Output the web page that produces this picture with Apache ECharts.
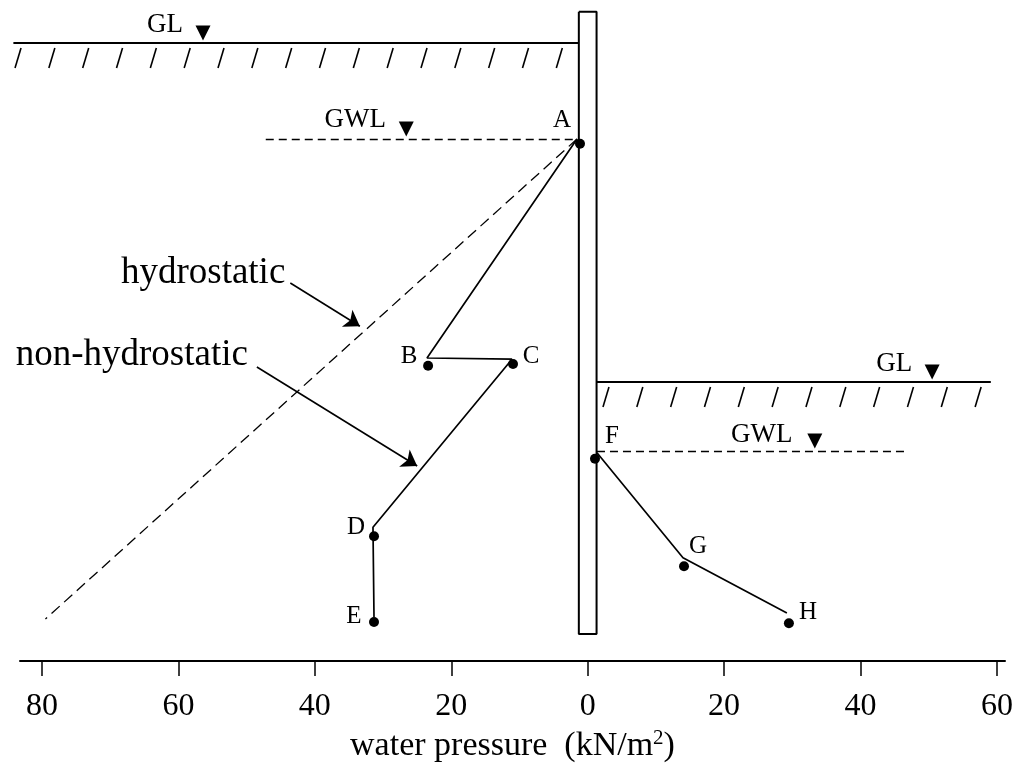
<!DOCTYPE html>
<html><head><meta charset="utf-8">
<script src="https://cdn.jsdelivr.net/npm/echarts@6/dist/echarts.min.js"></script>
<style>html,body{margin:0;padding:0;background:#fff}#c{width:1017px;height:765px}</style>
</head><body><div id="c"></div>
<script>
// ---- data (x: water pressure, kN/m2, left side negative; y: depth in m below left GL) ----
const xTickValues = [-80, -60, -40, -20, 0, 20, 40, 60];
const wallX = [-1.3, 1.3];
const wallDepth = [-0.52, 9.85];

const levelNames = ['GL', 'GWL', 'GL', 'GWL'];
const levelDepth = [0, 1.6, 5.65, 6.8];
const levelFromX = [-84.2, -47.2, 1.3, 1.36];
const levelToX = [-1.3, -1.3, 59.1, 47.0];
const levelMarkX = [-56.4, -26.6, 50.5, 33.3];

const hydroX = [-1.57, -79.5];
const hydroDepth = [1.6, 9.6];

const leftLineX = [-1.57, -23.56, -11.1, -31.48, -31.33];
const leftLineDepth = [1.6, 5.25, 5.27, 8.07, 9.57];
const rightLineX = [1.36, 13.97, 29.2];
const rightLineDepth = [6.83, 8.58, 9.5];

const pointNames = ['A', 'B', 'C', 'D', 'E', 'F', 'G', 'H'];
const pointX = [-1.13, -23.4, -10.95, -31.33, -31.33, 1.07, 14.12, 29.5];
const pointDepth = [1.68, 5.38, 5.35, 8.22, 9.65, 6.93, 8.72, 9.67];

const noteNames = ['hydrostatic', 'non-hydrostatic'];
const noteFromX = [-43.6, -48.5];
const noteFromDepth = [4.0, 5.4];
const noteToX = [-33.4, -25.0];
const noteToDepth = [4.72, 7.05];

// ---- styles ----
const FONT = 'Liberation Serif';
const BLACK = '#000';
const pointLabelOffset = {A:[-18,-23], B:[-19,-9.5], C:[18,-7.5], D:[-18,-8.5], E:[-20,-5.5], F:[17,-22], G:[14,-20], H:[19,-11]};
const levelLabelOffset = [[-38,-18], [-51,-19], [-38,-18.5], [-53,-16]];
const hatchCfg = [ {level:0, start:-83.96, count:17}, {level:2, start:2.24, count:12} ];
const HATCH_STEP = 4.96, HATCH_SLANT = 0.88, HATCH_TOP = 0.083, HATCH_BOT = 0.417;

const zip = (xs, ys) => xs.map((x, i) => [x, ys[i]]);

// wall outline
const wallPts = [[wallX[0], wallDepth[0]], [wallX[1], wallDepth[0]], [wallX[1], wallDepth[1]], [wallX[0], wallDepth[1]], [wallX[0], wallDepth[0]]];

// level lines
const solidLevels = [], dashedLevels = [];
levelNames.forEach((n, i) => {
  const seg = {coords: [[levelFromX[i], levelDepth[i]], [levelToX[i], levelDepth[i]]]};
  (n === 'GL' ? solidLevels : dashedLevels).push(seg);
});

// hatching under ground levels
const hatches = [];
hatchCfg.forEach(h => {
  const d = levelDepth[h.level];
  for (let k = 0; k < h.count; k++) {
    const x = h.start + k * HATCH_STEP;
    hatches.push({coords: [[x, d + HATCH_BOT], [x + HATCH_SLANT, d + HATCH_TOP]]});
  }
});

const levelPts = levelMarkX.map((x, i) => [x, levelDepth[i]]);

const option = {
  animation: false,
  backgroundColor: '#fff',
  grid: {left: 20, right: 12, top: 7, bottom: 104, containLabel: false, outerBoundsMode: 'none'},
  xAxis: {
    type: 'value', min: -83.23, max: 61.18,
    position: 'bottom',
    axisLine: {onZero: false, lineStyle: {color: BLACK, width: 2}},
    axisTick: {show: true, customValues: xTickValues, length: 15, inside: false, lineStyle: {color: BLACK, width: 1.5}},
    axisLabel: {customValues: xTickValues, margin: 30, fontFamily: FONT, fontSize: 32, color: BLACK,
      formatter: v => String(Math.abs(Math.round(v)))},
    splitLine: {show: false},
    name: '{a|water pressure  (kN/m}{s|2}{a|)}',
    nameLocation: 'middle', nameGap: 67,
    nameTextStyle: {rich: {
      a: {fontFamily: FONT, fontSize: 34, color: BLACK, lineHeight: 36},
      s: {fontFamily: FONT, fontSize: 21, color: BLACK, verticalAlign: 'top', lineHeight: 36}
    }}
  },
  yAxis: {type: 'value', inverse: true, min: -0.6, max: 10.3, show: false},
  series: [
    {type: 'line', data: wallPts, symbol: 'none', clip: false, silent: true,
      lineStyle: {color: BLACK, width: 2}},
    {type: 'lines', coordinateSystem: 'cartesian2d', data: solidLevels, clip: false, silent: true,
      lineStyle: {color: BLACK, width: 2, opacity: 1}},
    {type: 'lines', coordinateSystem: 'cartesian2d', data: dashedLevels, clip: false, silent: true,
      lineStyle: {color: BLACK, width: 1.3, type: [8, 5], opacity: 1}},
    {type: 'lines', coordinateSystem: 'cartesian2d', data: hatches, clip: false, silent: true,
      lineStyle: {color: BLACK, width: 1.6, opacity: 1}},
    {type: 'line', data: zip(hydroX, hydroDepth), symbol: 'none', clip: false, silent: true,
      lineStyle: {color: BLACK, width: 1.3, type: [11, 6]}},
    {type: 'line', data: zip(leftLineX, leftLineDepth), symbol: 'none', clip: false, silent: true,
      lineStyle: {color: BLACK, width: 1.7}},
    {type: 'line', data: zip(rightLineX, rightLineDepth), symbol: 'none', clip: false, silent: true,
      lineStyle: {color: BLACK, width: 1.7}},
    {type: 'lines', coordinateSystem: 'cartesian2d', clip: false, silent: true,
      data: noteNames.map((n, i) => ({coords: [[noteFromX[i], noteFromDepth[i]], [noteToX[i], noteToDepth[i]]]})),
      symbol: ['none', 'arrow'], symbolSize: 15,
      lineStyle: {color: BLACK, width: 1.6, opacity: 1}, itemStyle: {color: BLACK, opacity: 1}},
    {type: 'scatter', data: levelPts, symbol: 'triangle', symbolRotate: 180, symbolSize: [15, 15],
      symbolOffset: [0, -10], clip: false, silent: true, itemStyle: {color: BLACK, opacity: 1}},
    {type: 'scatter', clip: false, silent: true, symbolSize: 0, itemStyle: {opacity: 1},
      data: levelPts.map((p, i) => ({value: p, label: {offset: levelLabelOffset[i], formatter: levelNames[i]}})),
      label: {show: true, position: 'inside', color: BLACK, fontFamily: FONT, fontSize: 27}},
    {type: 'scatter', clip: false, silent: true, symbolSize: 10, itemStyle: {color: BLACK, opacity: 1},
      data: pointNames.map((n, i) => ({value: [pointX[i], pointDepth[i]], label: {offset: pointLabelOffset[n], formatter: n}})),
      label: {show: true, position: 'inside', color: BLACK, fontFamily: FONT, fontSize: 25}},
    {type: 'scatter', clip: false, silent: true, symbolSize: 0, itemStyle: {opacity: 1},
      data: noteNames.map((n, i) => ({value: [noteFromX[i], noteFromDepth[i]], label: {formatter: n, offset: [0, i === 0 ? -10 : -12], distance: i === 0 ? 5 : 9}})),
      label: {show: true, position: 'left', color: BLACK, fontFamily: FONT, fontSize: 37}}
  ]
};
const chart = echarts.init(document.getElementById('c'), null, {renderer: 'canvas'});
chart.setOption(option);
</script>
</body></html>
